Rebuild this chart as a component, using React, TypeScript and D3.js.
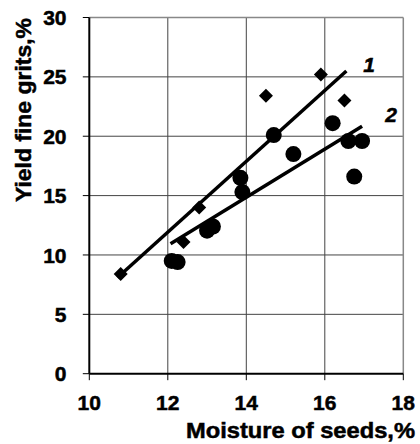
import React from 'react'
import * as d3 from 'd3'

// series 1 (diamonds) and series 2 (circles)
const moisture1 = [10.8, 12.4, 12.8, 14.5, 15.9, 16.5]
const yield1 = [8.4, 11.1, 14.0, 23.4, 25.2, 23.0]

const moisture2 = [12.1, 12.25, 13.0, 13.15, 13.85, 13.9, 14.7, 15.2, 16.2, 16.6, 16.95, 16.75]
const yield2 = [9.5, 9.4, 12.05, 12.4, 16.5, 15.3, 20.1, 18.5, 21.1, 19.6, 19.6, 16.6]

// trend line end points
const trend1X = [10.72, 16.55]
const trend1Y = [8.1, 25.5]
const trend2X = [12.07, 16.95]
const trend2Y = [10.95, 20.85]

const xTicks = [10, 12, 14, 16, 18]
const yTicks = [0, 5, 10, 15, 20, 25, 30]

const W = 420
const H = 444
const font = "'Liberation Sans', Arial, sans-serif"

export default function App() {
  const x = d3.scaleLinear().domain([10, 18]).range([89.3, 403.3])
  const y = d3.scaleLinear().domain([0, 30]).range([373.7, 17.5])

  const line = d3.line<[number, number]>()
    .x(d => x(d[0]))
    .y(d => y(d[1]))

  const t1 = trend1X.map((v, i) => [v, trend1Y[i]] as [number, number])
  const t2 = trend2X.map((v, i) => [v, trend2Y[i]] as [number, number])

  const dia = 7
  const diamond = `M0,${-dia}L${dia},0L0,${dia}L${-dia},0Z`

  return (
    <svg width={W} height={H} style={{position: 'absolute', left: 0, top: 0, background: '#fff'}}>
      {/* grid */}
      <g stroke="#444" strokeWidth={1}>
        {xTicks.slice(1, -1).map(t => (
          <line key={'gx' + t} x1={x(t)} x2={x(t)} y1={y(30)} y2={y(0)} />
        ))}
        {yTicks.slice(1, -1).map(t => (
          <line key={'gy' + t} x1={x(10)} x2={x(18)} y1={y(t)} y2={y(t)} />
        ))}
      </g>
      {/* plot border top/right */}
      <g stroke="#888" strokeWidth={1.5} fill="none">
        <line x1={x(10)} x2={x(18)} y1={y(30)} y2={y(30)} />
        <line x1={x(18)} x2={x(18)} y1={y(30)} y2={y(0)} />
      </g>
      {/* axes */}
      <g stroke="#000" strokeWidth={2}>
        <line x1={x(10)} x2={x(10)} y1={y(30)} y2={y(0)} />
        <line x1={x(10)} x2={x(18)} y1={y(0)} y2={y(0)} />
        {yTicks.map(t => (
          <line key={'ty' + t} x1={x(10) - 6.5} x2={x(10)} y1={y(t)} y2={y(t)} strokeWidth={1} />
        ))}
        {xTicks.map(t => (
          <line key={'tx' + t} x1={x(t)} x2={x(t)} y1={y(0)} y2={y(0) + 6.5} strokeWidth={1} />
        ))}
      </g>
      {/* all text drawn heavy, with a thin outline */}
      <g fontFamily={font} fontWeight="bold" fill="#000" stroke="#000" strokeWidth={0.5}>
        <g fontSize={21}>
          {yTicks.map(t => (
            <text key={'ly' + t} x={66.5} y={y(t)} dy="0.36em" textAnchor="end">{t}</text>
          ))}
          {xTicks.map(t => (
            <text key={'lx' + t} x={x(t)} y={410} textAnchor="middle">{t}</text>
          ))}
        </g>
        <text x={415} y={437.5} textAnchor="end" fontSize={21.5}
          textLength={229} lengthAdjust="spacingAndGlyphs">
          Moisture of seeds,%
        </text>
        <text transform="translate(31,110) rotate(-90)" textAnchor="middle" fontSize={21.5}
          textLength={184} lengthAdjust="spacingAndGlyphs">
          Yield fine grits,%
        </text>
      </g>
      {/* markers */}
      <g fill="#000">
        {moisture1.map((m, i) => (
          <path key={'d' + i} d={diamond} transform={`translate(${x(m)},${y(yield1[i])})`} />
        ))}
        {moisture2.map((m, i) => (
          <circle key={'c' + i} cx={x(m)} cy={y(yield2[i])} r={8} />
        ))}
      </g>
      {/* trend lines */}
      <path d={line(t1) || ''} stroke="#000" strokeWidth={3.5} fill="none" />
      <path d={line(t2) || ''} stroke="#000" strokeWidth={3.5} fill="none" />
      <g fontFamily={font} fontWeight="bold" fontStyle="italic" fontSize={21} fill="#000" stroke="#000" strokeWidth={0.5}>
        <text x={369} y={72} textAnchor="middle">1</text>
        <text x={391} y={122} textAnchor="middle">2</text>
      </g>
    </svg>
  )
}
